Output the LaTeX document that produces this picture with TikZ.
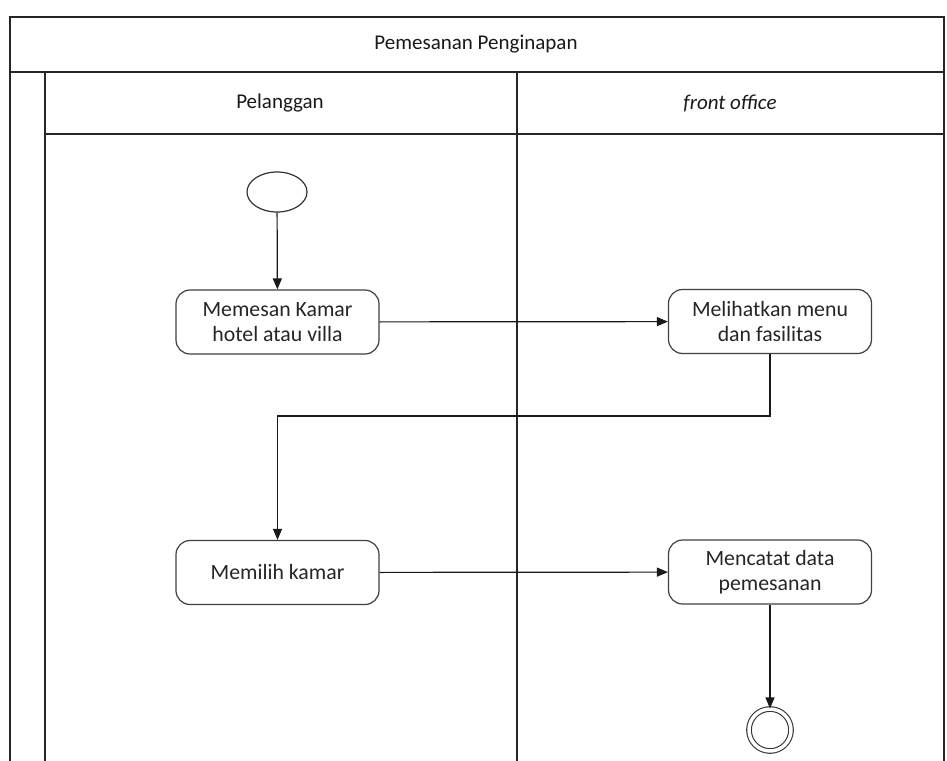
\documentclass[tikz,border=0pt]{standalone}
\usepackage{fontspec}
\setmainfont{Carlito}
\usetikzlibrary{shapes.geometric,arrows.meta}
\begin{document}
\begin{tikzpicture}[x=1pt,y=-1pt,
  frame/.style={draw=black!85,line width=1.3pt},
  act/.style={draw=black!75,line width=1.2pt,rounded corners=14pt,minimum width=203pt,minimum height=64pt,align=center,inner sep=2pt,font=\fontsize{21.8}{25}\selectfont,text=black!85},
  lbl/.style={font=\fontsize{21}{25}\selectfont,text=black!90},
  arr/.style={draw=black!90,line width=1.2pt,-{Triangle[length=11pt,width=9pt]}}]
\useasboundingbox (0,0) rectangle (947,760);
\fill[white] (0,0) rectangle (947,760);
% frames
\draw[frame] (10,775) -- (10,17) -- (944,17) -- (944,775);
\draw[frame] (10,72) -- (944,72);
\draw[frame] (45,72) -- (45,775);
\draw[frame] (45,134) -- (944,134);
\draw[frame] (517,72) -- (517,775);
% labels
\node[lbl] (title) at (476,44) {Pemesanan Penginapan};
\node[lbl] (lane1) at (280,103) {Pelanggan};
\node[lbl] (lane2) at (730,103) {\itshape front office};
% nodes
\node[ellipse,draw=black!80,line width=1.2pt,minimum width=60pt,minimum height=40pt,inner sep=0pt] (start) at (277,192) {};
\node[act] (n1) at (277.5,322) {Memesan Kamar\\hotel atau villa};
\node[act] (n2) at (770,321.5) {Melihatkan menu\\dan fasilitas};
\node[act] (n3) at (277.5,572.5) {Memilih kamar};
\node[act] (n4) at (770,572) {Mencatat data\\pemesanan};
\node[circle,draw=black!80,line width=1.1pt,double,double distance=3.5pt,minimum size=42pt,inner sep=0pt] (end) at (770,730) {};
\coordinate (turn) at (770,416);
% connectors
\draw[arr] (start) -- (n1);
\draw[arr] (n1) -- (n2);
\draw[arr] (n2.south) -- (turn) -| (n3.north);
\draw[arr] (n3) -- (n4);
\draw[arr] (n4) -- (end);
\end{tikzpicture}
\end{document}
